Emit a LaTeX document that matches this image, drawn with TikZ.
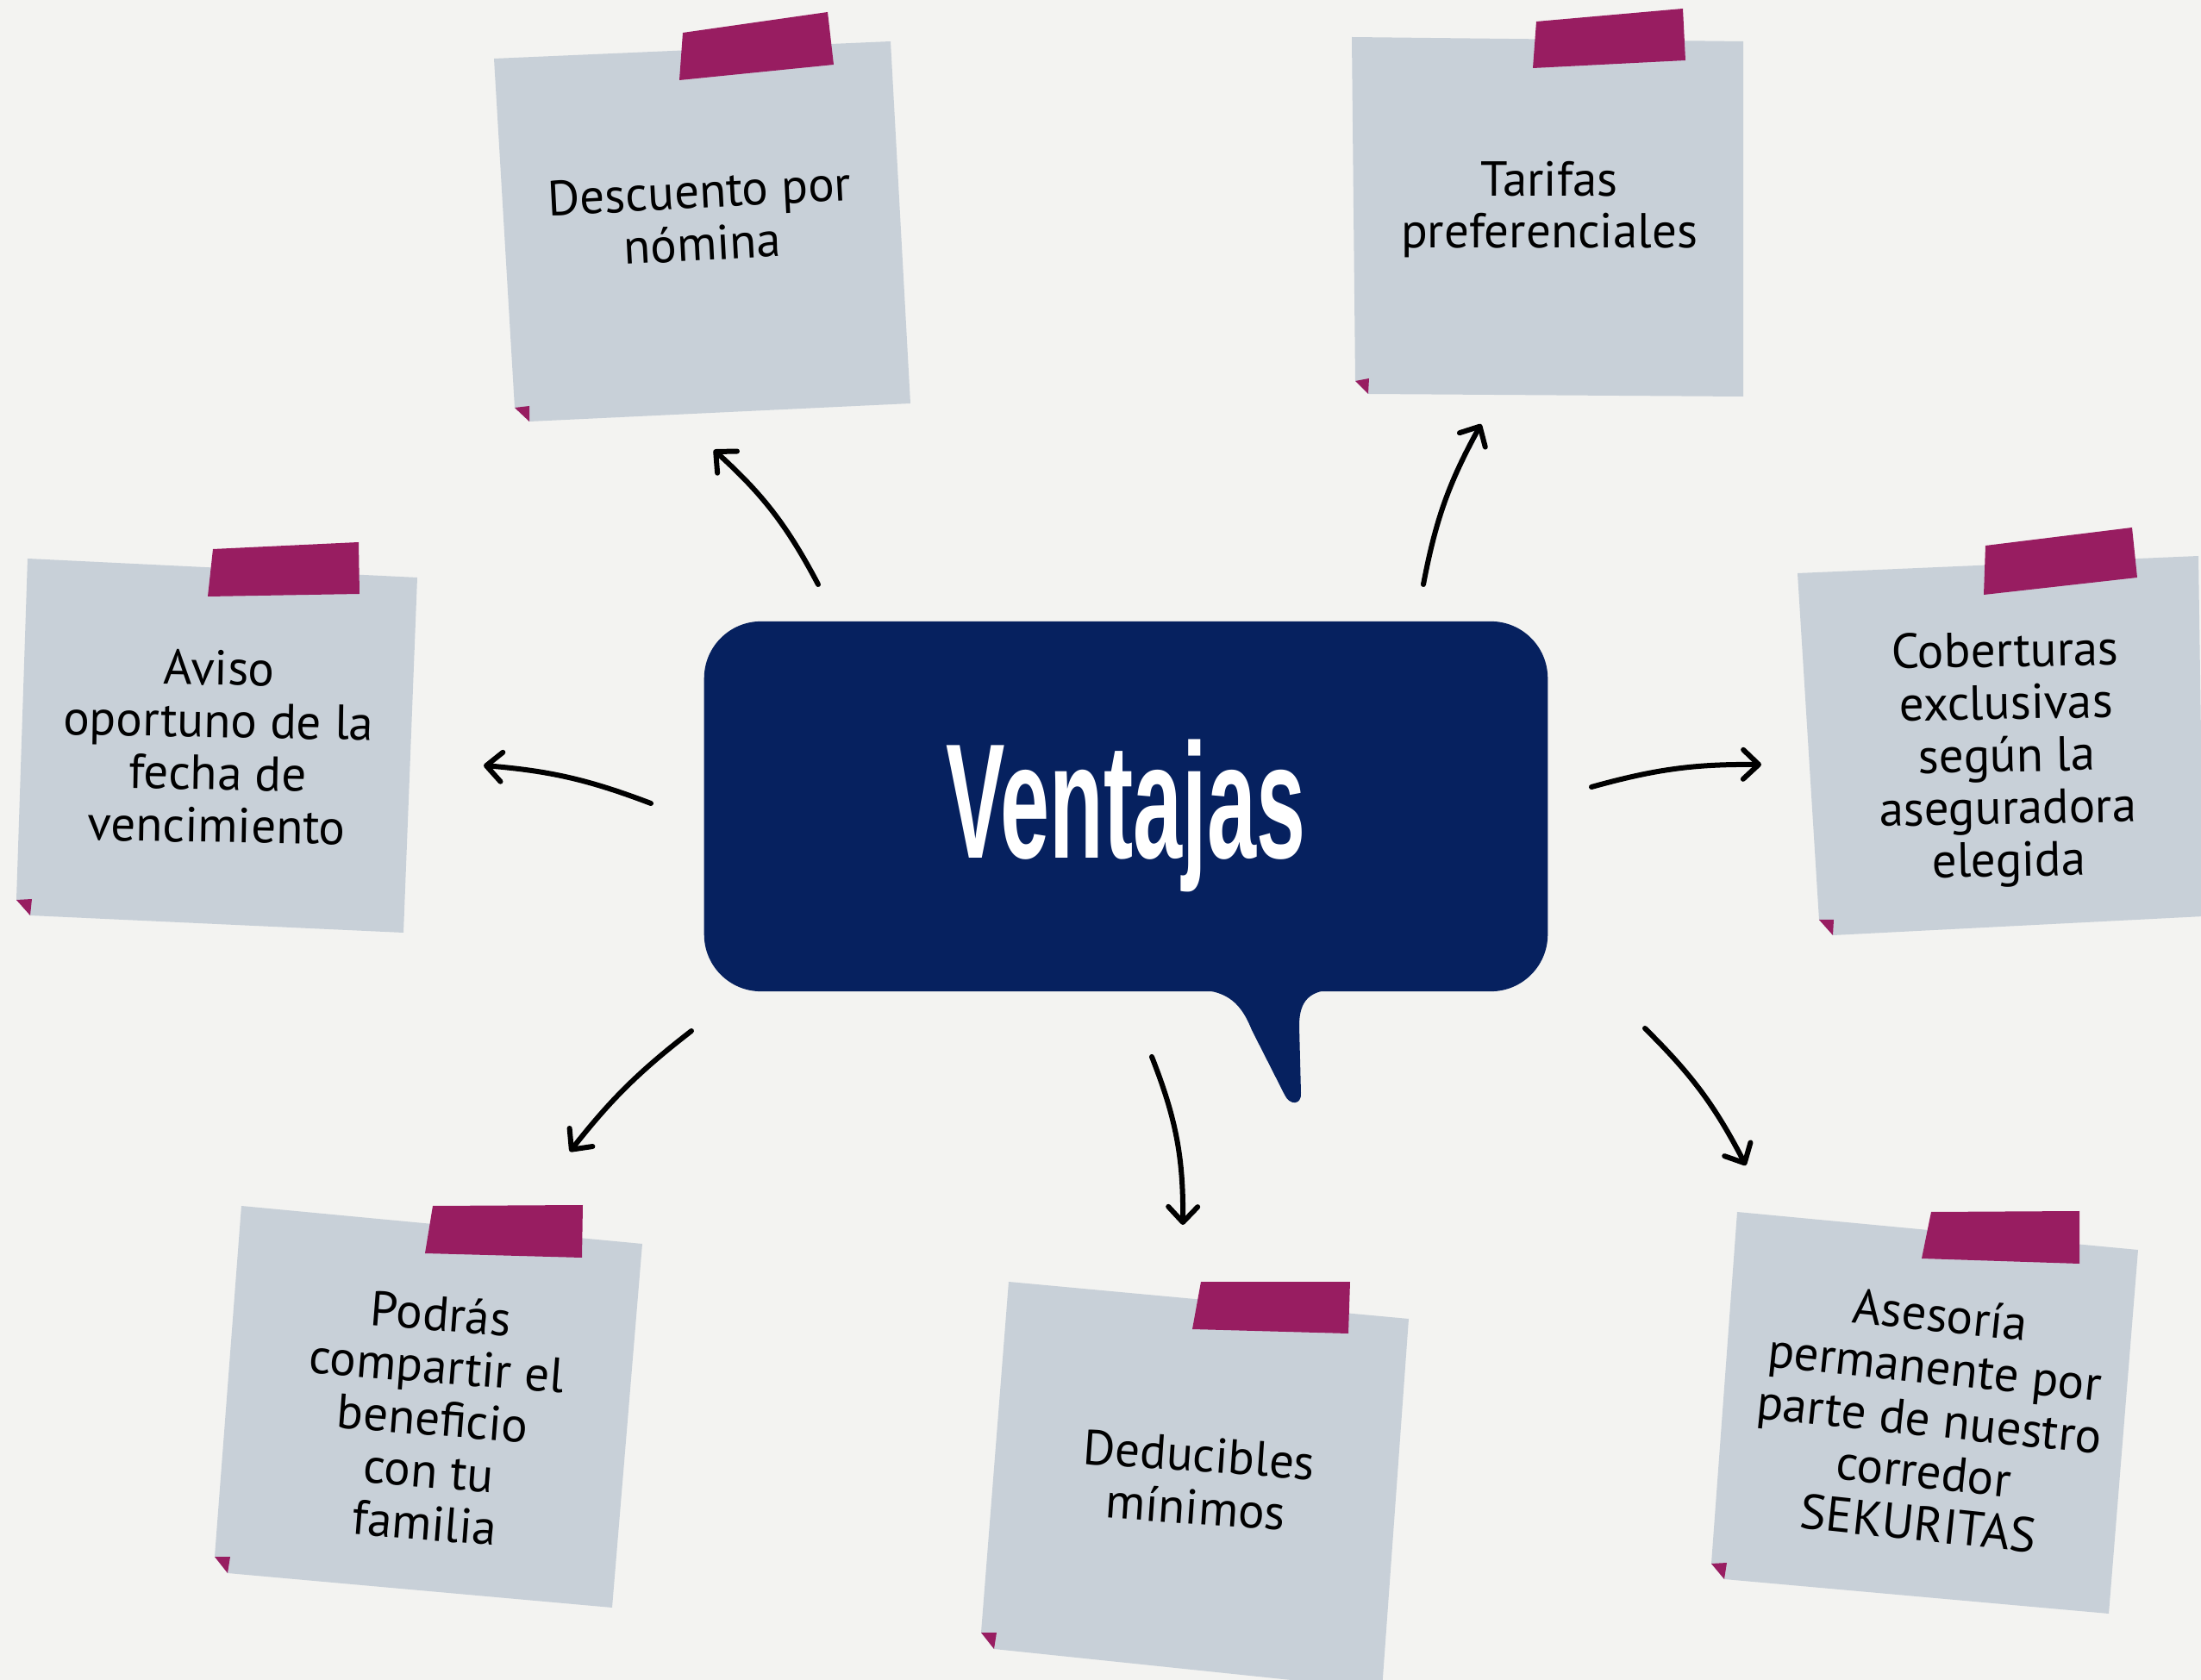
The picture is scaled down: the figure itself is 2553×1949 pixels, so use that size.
\documentclass[tikz,border=0pt]{standalone}
\usepackage{fontspec}
\setmainfont{PT Sans}
\newfontfamily\headfont[FakeStretch=0.54]{Liberation Sans}
\usetikzlibrary{arrows.meta}
\definecolor{wallc}{HTML}{F3F3F1}
\definecolor{paperc}{HTML}{C8D0D8}
\definecolor{tapec}{HTML}{981D61}
\definecolor{bubblec}{HTML}{06215F}
\tikzset{
  paper/.style={fill=paperc},
  tape/.style={fill=tapec},
  notetext/.style={align=center, inner sep=0pt,
    font=\fontsize{16.2}{17.3}\selectfont},
  bubble/.style={fill=bubblec, rounded corners=0.66cm,
    minimum width=9.78cm, minimum height=4.29cm, text=white,
    text height=1.36cm, text depth=0.17cm,
    font=\headfont\bfseries\fontsize{54}{60}\selectfont},
  arrowline/.style={line width=0.06cm, line cap=round,
    -{Straight Barb[round,length=1.8mm,width=3.4mm]}}
}
% paper outline, tape, folded corner
\newcommand{\sticky}[3]{%
  \fill[paper] #1 -- cycle;
  \fill[tape] #2 -- cycle;
  \fill[tape] #3 -- cycle;}

\begin{document}
\begin{tikzpicture}[x=0.01cm,y=-0.01cm]
	\fill[wallc] (0,0) rectangle (2553,1949);
	\useasboundingbox (0,0) rectangle (2553,1949);
	\clip (0,0) rectangle (2553,1949);

	% notes
	\sticky{(573,68) -- (1033,48) -- (1056,468) -- (614,489) -- (597,473)}
		{(792,38) -- (960,14) -- (967,75) -- (788,93)}
		{(597,473) -- (614,471) -- (614,489)}
	\sticky{(1568,43) -- (2022,48) -- (2022,460) -- (1587,457) -- (1572,442)}
		{(1782,25) -- (1952,10) -- (1955,70) -- (1778,79)}
		{(1572,442) -- (1588,439) -- (1587,457)}
	\sticky{(32,648) -- (484,670) -- (468,1082) -- (35,1062) -- (19,1044)}
		{(247,637) -- (416,629) -- (417,689) -- (241,692)}
		{(19,1044) -- (37,1043) -- (35,1062)}
	\sticky{(2085,665) -- (2550,645) -- (2556,1063) -- (2126,1085) -- (2110,1067)}
		{(2303,633) -- (2473,612) -- (2479,670) -- (2301,690)}
		{(2110,1067) -- (2127,1067) -- (2126,1085)}
	\sticky{(280,1399) -- (745,1443) -- (710,1865) -- (264,1825) -- (249,1806)}
		{(502,1399) -- (676,1398) -- (675,1459) -- (493,1454)}
		{(249,1806) -- (267,1806) -- (264,1825)}
	\sticky{(1170,1487) -- (1634,1530) -- (1603,1960) -- (1153,1913) -- (1138,1894)}
		{(1393,1487) -- (1566,1487) -- (1564,1547) -- (1383,1542)}
		{(1138,1894) -- (1156,1894) -- (1153,1913)}
	\sticky{(2015,1406) -- (2480,1450) -- (2446,1872) -- (2000,1832) -- (1985,1814)}
		{(2240,1406) -- (2412,1405) -- (2412,1466) -- (2229,1460)}
		{(1985,1814) -- (2003,1813) -- (2000,1832)}

	\node[notetext, rotate=3] (descuento) at (813,252) {Descuento por\\nómina};
	\node[notetext] (tarifas) at (1797,243) {Tarifas\\preferenciales};
	\node[notetext, rotate=-1] (aviso) at (253,866) {Aviso\\oportuno de la\\fecha de\\vencimiento};
	\node[notetext, rotate=1] (coberturas) at (2328,881) {Coberturas\\exclusivas\\según la\\aseguradora\\elegida};
	\node[notetext, rotate=-4.5] (podras) at (502,1645) {Podrás\\compartir el\\beneficio\\con tu\\familia};
	\node[notetext, rotate=-4] (deducibles) at (1389,1718) {Deducibles\\mínimos};
	\node[notetext, rotate=-6] (asesoria) at (2238,1646) {Asesoría\\permanente por\\parte de nuestro\\corredor\\SEKURITAS};

	% speech bubble
	\fill[bubblec] (1390,1148) .. controls (1425,1150) and (1440,1165) .. (1452,1195)
		-- (1490,1270) .. controls (1496,1283) and (1510,1282) .. (1509,1268)
		-- (1507,1190) .. controls (1507,1160) and (1520,1150) .. (1545,1148) -- cycle;
	\node[bubble] (ventajas) at (1306,935.5) {Ventajas};

	% arrows
	\coordinate (d0) at (949,678);   \coordinate (d1) at (828,522);
	\coordinate (t0) at (1651,678);  \coordinate (t1) at (1718,492);
	\coordinate (a0) at (755,932);   \coordinate (a1) at (561,888);
	\coordinate (c0) at (1846,913);  \coordinate (c1) at (2043,887);
	\coordinate (p0) at (802,1196);  \coordinate (p1) at (661,1336);
	\coordinate (m0) at (1336,1226); \coordinate (m1) at (1372,1421);
	\coordinate (s0) at (1908,1193); \coordinate (s1) at (2025,1352);
	\path[arrowline]
	(d0) edge[bend right=10] (d1)
	(t0) edge[bend left=9] (t1)
	(a0) edge[bend right=8] (a1)
	(c0) edge[bend left=8] (c1)
	(p0) edge[bend right=7] (p1)
	(m0) edge[bend left=11] (m1)
	(s0) edge[bend left=9] (s1);
\end{tikzpicture}
\end{document}
